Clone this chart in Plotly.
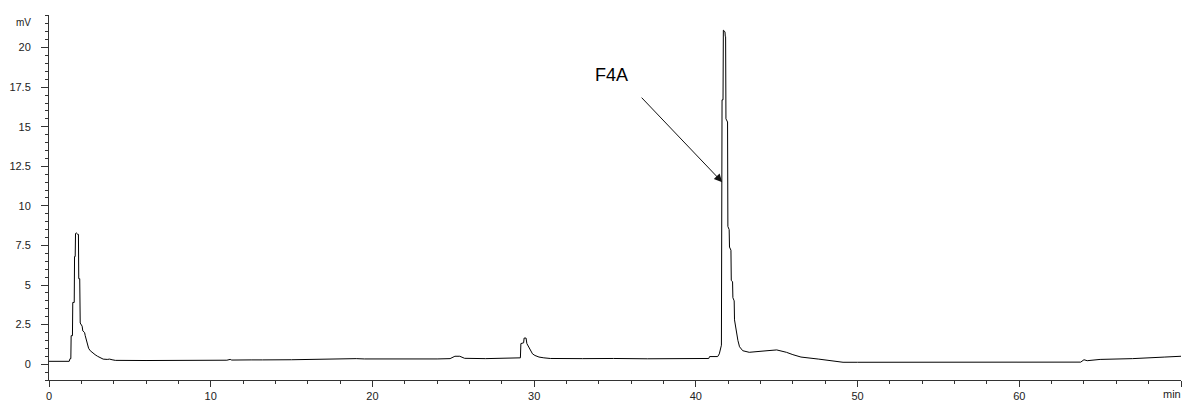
import plotly.graph_objects as go

# Chromatogram trace (time in min, signal in mV)
time_min = [
    0.0, 1.25, 1.3, 1.35, 1.37, 1.45, 1.47, 1.56, 1.58, 1.62, 1.64, 1.68, 1.78, 1.82,
    1.84, 1.9, 1.93, 2.05, 2.09, 2.2, 2.24, 2.3, 2.36, 2.45, 2.55, 2.7, 2.85, 3.0,
    3.2, 3.35, 3.6, 3.75, 3.9, 4.1, 6.0, 8.0, 9.5, 11.0, 11.2, 11.3, 12.5, 13.0,
    13.2, 15.0, 16.5, 17.0, 18.0, 18.5, 19.0, 19.5, 21.0, 22.0, 23.0, 24.0, 24.8,
    25.1, 25.4, 25.7, 27.0, 28.0, 29.0, 29.15, 29.18, 29.35, 29.38, 29.5, 29.55,
    29.65, 29.75, 29.9, 30.05, 30.3, 30.6, 31.0, 33.0, 34.3, 34.6, 34.9, 37.0,
    38.5, 40.0, 40.8, 40.85, 41.35, 41.45, 41.55, 41.58, 41.62, 41.68, 41.7, 41.8,
    41.82, 41.84, 41.86, 41.96, 41.98, 42.06, 42.08, 42.17, 42.19, 42.27, 42.29,
    42.37, 42.39, 42.5, 42.6, 42.7, 42.9, 43.3, 43.9, 44.4, 45.0, 45.6, 46.0, 46.5,
    47.6, 48.5, 49.1, 50.0, 55.0, 60.0, 63.8, 64.0, 64.2, 65.0, 67.0, 69.0, 70.0,
]
signal_mv = [
    0.18, 0.18, 0.35, 0.35, 1.8, 1.8, 3.9, 3.9, 6.8, 6.8, 8.25, 8.3, 8.2, 8.2,
    5.4, 5.4, 2.6, 2.4, 2.1, 2.0, 1.8, 1.6, 1.3, 1.0, 0.85, 0.7, 0.6, 0.5,
    0.4, 0.32, 0.3, 0.32, 0.28, 0.24, 0.23, 0.23, 0.24, 0.25, 0.3, 0.26, 0.27, 0.3,
    0.27, 0.28, 0.3, 0.32, 0.33, 0.37, 0.35, 0.33, 0.32, 0.34, 0.33, 0.33, 0.35,
    0.5, 0.5, 0.37, 0.35, 0.36, 0.36, 0.4, 1.3, 1.35, 1.65, 1.65, 1.3,
    1.1, 0.85, 0.65, 0.55, 0.45, 0.4, 0.36, 0.35, 0.38, 0.4, 0.36, 0.34,
    0.33, 0.35, 0.36, 0.48, 0.48, 0.65, 1.2, 1.2, 16.7, 16.7, 21.1, 21.0,
    20.7, 20.7, 15.5, 15.3, 8.7, 8.5, 7.4, 7.2, 5.3, 5.2, 4.2,
    4.0, 2.8, 2.0, 1.5, 1.1, 0.85, 0.75, 0.78, 0.85, 0.9, 0.75, 0.6, 0.45,
    0.32, 0.2, 0.12, 0.12, 0.12, 0.12, 0.13, 0.28, 0.22, 0.3, 0.35, 0.45, 0.5,
]

x_tick_vals = [0, 10, 20, 30, 40, 50, 60, 70]
x_tick_text = ["0", "10", "20", "30", "40", "50", "60", ""]
x_unit = "min"
y_tick_vals = [0, 2.5, 5, 7.5, 10, 12.5, 15, 17.5, 20]
y_tick_text = ["0", "2.5", "5", "7.5", "10", "12.5", "15", "17.5", "20"]
y_unit = "mV"

peak_label = "F4A"
peak_time = 41.63
peak_arrow_level = 11.5

fig = go.Figure()
fig.add_trace(go.Scatter(
    x=time_min, y=signal_mv, mode="lines",
    line=dict(color="#000000", width=1),
    hoverinfo="skip", showlegend=False,
))

axis_font = dict(family="Liberation Sans, Arial, sans-serif", size=11, color="#222222")

fig.update_layout(
    width=1182, height=403,
    margin=dict(l=49, r=1, t=15, b=19),
    paper_bgcolor="white", plot_bgcolor="white",
    font=axis_font,
    xaxis=dict(
        range=[0, 70], showgrid=False, zeroline=False,
        showline=True, linecolor="#333333", linewidth=1,
        ticks="outside", ticklen=6, tickcolor="#333333", tickwidth=1,
        tickvals=x_tick_vals, ticktext=x_tick_text,
        minor=dict(dtick=2, ticks="outside", ticklen=3, tickcolor="#333333", showgrid=False),
        tickfont=axis_font,
    ),
    yaxis=dict(
        range=[-1, 22.06], showgrid=False, zeroline=False,
        showline=True, linecolor="#333333", linewidth=1,
        ticks="outside", ticklen=7, tickcolor="#333333", tickwidth=1,
        tickvals=y_tick_vals, ticktext=y_tick_text,
        minor=dict(dtick=0.5, ticks="outside", ticklen=3, tickcolor="#333333", showgrid=False),
        tickfont=axis_font, ticklabelstandoff=8,
    ),
)

# unit label on the y axis
fig.add_annotation(
    text=y_unit, xref="paper", yref="paper", x=0, y=0.979,
    xanchor="right", yanchor="middle", xshift=-16, showarrow=False,
    font=dict(family="Liberation Sans, Arial, sans-serif", size=10, color="#222222"),
)
# unit label on the x axis (at the end of the axis)
fig.add_annotation(
    text=x_unit, xref="paper", yref="paper", x=1, y=0,
    xanchor="left", yanchor="top", xshift=-20, yshift=-6, showarrow=False,
    font=axis_font,
)

# arrow pointing to the main peak
fig.add_annotation(
    x=peak_time, y=peak_arrow_level, xref="x", yref="y",
    text="", showarrow=True, ax=-82, ay=-86,
    arrowhead=2, arrowsize=1.6, arrowwidth=1, arrowcolor="#111111",
)
fig.add_annotation(
    x=peak_time, y=peak_arrow_level, xref="x", yref="y",
    text=peak_label, showarrow=False, xshift=-111, yshift=107,
    font=dict(family="Liberation Sans, Arial, sans-serif", size=18, color="#000000"),
)

fig.write_html(
    "out.html",
    config={"displayModeBar": False, "staticPlot": True},
    post_script="document.body.style.margin='0px';document.body.style.padding='0px';document.body.style.overflow='hidden';",
)
